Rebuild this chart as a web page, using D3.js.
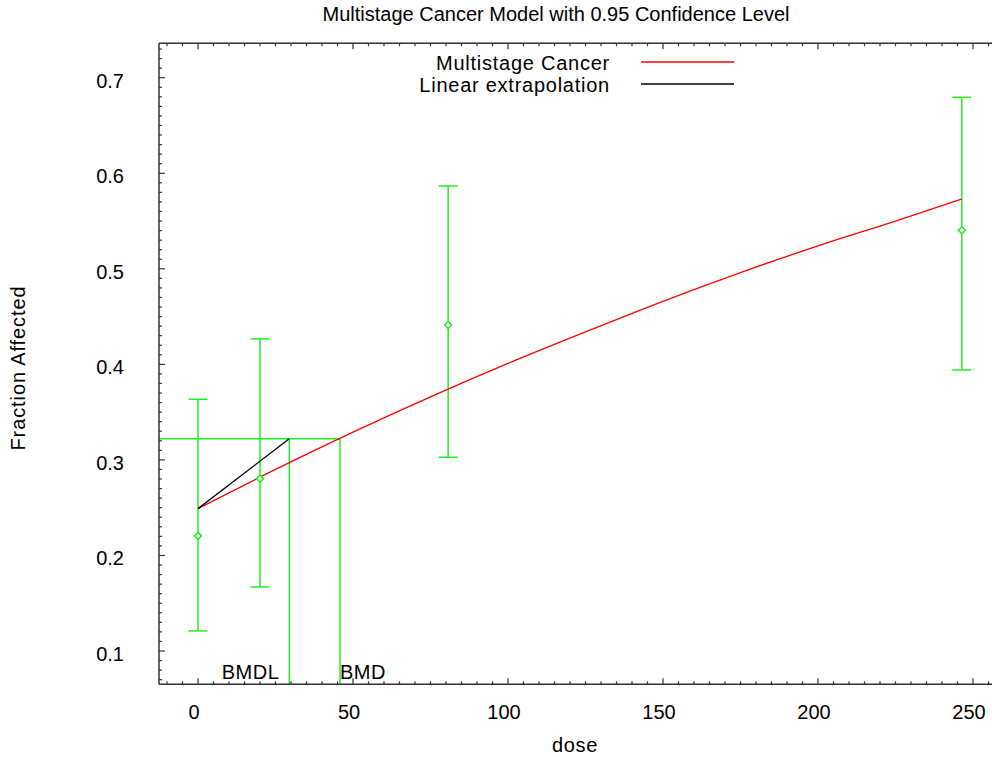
<!DOCTYPE html>
<html>
<head>
<meta charset="utf-8">
<script src="https://cdn.jsdelivr.net/npm/d3@7"></script>
<style>
  body { margin: 0; background: #fff; }
  text { font-family: "Liberation Sans", Arial, sans-serif; fill: #000; }
</style>
</head>
<body>
<div id="chart"></div>
<script>
// observed data (dose groups, mean fraction affected, 95% CI)
var doses = [0, 20, 80.7, 246.4];
var fracs = [0.2205, 0.2804, 0.4412, 0.5403];
var ciLow = [0.121, 0.167, 0.3028, 0.3941];
var ciHigh = [0.3635, 0.4267, 0.5867, 0.6795];

// fitted multistage curve
var curveDose = [0, 25, 50, 75, 100, 125, 150, 175, 200, 225, 246.4];
var curveFrac = [0.249, 0.290, 0.329, 0.366, 0.401, 0.434, 0.466, 0.496, 0.524, 0.550, 0.573];

var bmd = 45.8, bmdl = 29.45, bmrLevel = 0.3222;
var xTicks = [0, 50, 100, 150, 200, 250];
var yTicks = [0.1, 0.2, 0.3, 0.4, 0.5, 0.6, 0.7];
var legendLabels = ["Multistage Cancer", "Linear extrapolation"];
var legendColors = ["#ff0000", "#000000"];

var W = 992, H = 757;
var pLeft = 159, pTop = 43.3, pRight = 1000, pBottom = 684.3;

var svg = d3.select("#chart").append("svg")
    .attr("width", W).attr("height", H);

var x = d3.scaleLinear().domain([0, 250]).range([198, 973]);
var y = d3.scaleLinear().domain([0.1, 0.7]).range([651, 77.7]);

var green = "#22ee22";

// BMD guide lines
var g = svg.append("g").attr("stroke", green).attr("stroke-width", 1.5).attr("fill", "none");
g.append("line").attr("x1", pLeft).attr("x2", x(bmd)).attr("y1", y(bmrLevel)).attr("y2", y(bmrLevel));
g.append("line").attr("x1", x(bmdl)).attr("x2", x(bmdl)).attr("y1", y(bmrLevel)).attr("y2", pBottom);
g.append("line").attr("x1", x(bmd)).attr("x2", x(bmd)).attr("y1", y(bmrLevel)).attr("y2", pBottom);

// error bars
doses.forEach(function (d, i) {
    var cx = x(d);
    g.append("line").attr("x1", cx).attr("x2", cx).attr("y1", y(ciLow[i])).attr("y2", y(ciHigh[i]));
    g.append("line").attr("x1", cx - 9.5).attr("x2", cx + 9.5).attr("y1", y(ciLow[i])).attr("y2", y(ciLow[i]));
    g.append("line").attr("x1", cx - 9.5).attr("x2", cx + 9.5).attr("y1", y(ciHigh[i])).attr("y2", y(ciHigh[i]));
});

// model curve
var curveData = curveDose.map(function (d, i) { return [d, curveFrac[i]]; });
svg.append("path")
    .datum(curveData)
    .attr("fill", "none")
    .attr("stroke", "#ff0000")
    .attr("stroke-width", 1.3)
    .attr("d", d3.line().x(function (d) { return x(d[0]); }).y(function (d) { return y(d[1]); }).curve(d3.curveMonotoneX));

// linear extrapolation
svg.append("line")
    .attr("x1", x(0)).attr("y1", y(curveFrac[0]))
    .attr("x2", x(bmdl)).attr("y2", y(bmrLevel))
    .attr("stroke", "#000").attr("stroke-width", 1.3);

// markers
svg.selectAll("path.pt")
    .data(doses)
    .enter()
    .append("path")
    .attr("class", "pt")
    .attr("d", "M0,-3.5L3.5,0L0,3.5L-3.5,0Z")
    .attr("transform", function (d, i) { return "translate(" + x(d) + "," + y(fracs[i]) + ")"; })
    .attr("fill", "#fff")
    .attr("stroke", green)
    .attr("stroke-width", 1.5);

// axes
var axisColor = "#333";
var ax = svg.append("g").attr("stroke", axisColor);
ax.append("line").attr("x1", pLeft).attr("x2", pRight).attr("y1", pBottom).attr("y2", pBottom).attr("stroke-width", 1.5);
ax.append("line").attr("x1", pLeft).attr("x2", pRight).attr("y1", pTop).attr("y2", pTop).attr("stroke-width", 1.5);
ax.append("line").attr("x1", pLeft).attr("x2", pLeft).attr("y1", pTop).attr("y2", pBottom).attr("stroke-width", 1.5);

var xMinor = d3.range(-10, 261, 5);
xMinor.forEach(function (v) {
    var major = v % 50 === 0;
    var len = major ? 6 : 3;
    ax.append("line").attr("x1", x(v)).attr("x2", x(v)).attr("y1", pBottom).attr("y2", pBottom - len).attr("stroke-width", 1.2);
    ax.append("line").attr("x1", x(v)).attr("x2", x(v)).attr("y1", pTop).attr("y2", pTop + len).attr("stroke-width", 1.2);
});
var yMinor = d3.range(7, 74, 1).map(function (v) { return v / 100; });
yMinor.forEach(function (v) {
    var major = Math.round(v * 100) % 10 === 0;
    var len = major ? 6 : 3;
    if (y(v) > pBottom - 1 || y(v) < pTop + 1) return;
    ax.append("line").attr("x1", pLeft).attr("x2", pLeft + len).attr("y1", y(v)).attr("y2", y(v)).attr("stroke-width", 1.2);
});

svg.selectAll("text.xt")
    .data(xTicks)
    .enter()
    .append("text")
    .attr("x", function (d) { return x(d) - 4; })
    .attr("y", 719)
    .attr("text-anchor", "middle")
    .style("font-size", "20px")
    .text(function (d) { return d; });

svg.selectAll("text.yt")
    .data(yTicks)
    .enter()
    .append("text")
    .attr("x", 124)
    .attr("y", function (d) { return y(d) + 10; })
    .attr("text-anchor", "end")
    .style("font-size", "20px")
    .text(function (d) { return d.toFixed(1); });

// BMD labels
svg.append("text").attr("x", x(bmdl) - 10).attr("y", 679).attr("text-anchor", "end")
    .style("font-size", "20px").style("letter-spacing", "0.5px").text("BMDL");
svg.append("text").attr("x", x(bmd)).attr("y", 679)
    .style("font-size", "20px").style("letter-spacing", "0.5px").text("BMD");

// titles
svg.append("text").attr("x", 556).attr("y", 21).attr("text-anchor", "middle")
    .style("font-size", "20px").text("Multistage Cancer Model with 0.95 Confidence Level");
svg.append("text").attr("x", 575).attr("y", 752).attr("text-anchor", "middle")
    .style("font-size", "20px").style("letter-spacing", "0.7px").text("dose");
svg.append("text").attr("transform", "translate(25,368)rotate(-90)").attr("text-anchor", "middle")
    .style("font-size", "20px").style("letter-spacing", "0.9px").text("Fraction Affected");

// legend
legendLabels.forEach(function (lab, i) {
    var ly = 62 + i * 22;
    svg.append("text").attr("x", 610).attr("y", ly + 8).attr("text-anchor", "end")
        .style("font-size", "20px").style("letter-spacing", "0.75px").text(lab);
    svg.append("line").attr("x1", 641).attr("x2", 734).attr("y1", ly).attr("y2", ly)
        .attr("stroke", legendColors[i]).attr("stroke-width", 1.3);
});
</script>
</body>
</html>
